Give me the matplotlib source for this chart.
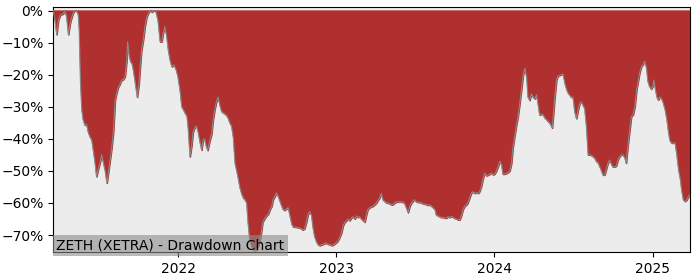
import pandas as pd
import matplotlib
matplotlib.use("Agg")
import matplotlib.pyplot as plt
import matplotlib.dates as mdates
from matplotlib.ticker import FuncFormatter

# drawdown series (date, percent below running peak)
dates = [
    "2021-03-18", "2021-03-22", "2021-03-26", "2021-03-30", "2021-04-03", "2021-04-10", "2021-04-14",
    "2021-04-18", "2021-04-22", "2021-04-26", "2021-04-30", "2021-05-03", "2021-05-07", "2021-05-12",
    "2021-05-15", "2021-05-17", "2021-05-20", "2021-05-23", "2021-05-26", "2021-05-30", "2021-06-03",
    "2021-06-07", "2021-06-11", "2021-06-15", "2021-06-19", "2021-06-23", "2021-06-26", "2021-06-30",
    "2021-07-04", "2021-07-08", "2021-07-12", "2021-07-16", "2021-07-20", "2021-07-23", "2021-07-27",
    "2021-07-31", "2021-08-04", "2021-08-08", "2021-08-12", "2021-08-15", "2021-08-19", "2021-08-23",
    "2021-08-27", "2021-08-31", "2021-09-04", "2021-09-06", "2021-09-10", "2021-09-13", "2021-09-16",
    "2021-09-19", "2021-09-23", "2021-09-28", "2021-10-02", "2021-10-05", "2021-10-08", "2021-10-12",
    "2021-10-16", "2021-10-20", "2021-10-24", "2021-10-28", "2021-11-01", "2021-11-06", "2021-11-10",
    "2021-11-15", "2021-11-20", "2021-11-24", "2021-11-27", "2021-12-01", "2021-12-05", "2021-12-09",
    "2021-12-13", "2021-12-17", "2021-12-22", "2021-12-27", "2021-12-31",
    "2022-01-05", "2022-01-09", "2022-01-15", "2022-01-21", "2022-01-24", "2022-01-28", "2022-02-01",
    "2022-02-04", "2022-02-08", "2022-02-12", "2022-02-16", "2022-02-20", "2022-02-24", "2022-02-27",
    "2022-03-03", "2022-03-07", "2022-03-10", "2022-03-15", "2022-03-19", "2022-03-22", "2022-03-26",
    "2022-03-30", "2022-04-03", "2022-04-07", "2022-04-11", "2022-04-16", "2022-04-22", "2022-04-26",
    "2022-04-30", "2022-05-04", "2022-05-08", "2022-05-12", "2022-05-16", "2022-05-19", "2022-05-23",
    "2022-05-27", "2022-05-31", "2022-06-04", "2022-06-08", "2022-06-11", "2022-06-15", "2022-06-19",
    "2022-06-23", "2022-06-27", "2022-07-01", "2022-07-06", "2022-07-11", "2022-07-15", "2022-07-20",
    "2022-07-24", "2022-07-28", "2022-08-01", "2022-08-05", "2022-08-08", "2022-08-12", "2022-08-16",
    "2022-08-20", "2022-08-24", "2022-08-28", "2022-08-31", "2022-09-04", "2022-09-08", "2022-09-12",
    "2022-09-16", "2022-09-20", "2022-09-23", "2022-09-27", "2022-10-02", "2022-10-09", "2022-10-16",
    "2022-10-20", "2022-10-24", "2022-10-28", "2022-11-01", "2022-11-05", "2022-11-08", "2022-11-12",
    "2022-11-16", "2022-11-20", "2022-11-24", "2022-11-29", "2022-12-03", "2022-12-08", "2022-12-12",
    "2022-12-17", "2022-12-22", "2022-12-26", "2022-12-31",
    "2023-01-04", "2023-01-08", "2023-01-13", "2023-01-17", "2023-01-21", "2023-01-25", "2023-01-28",
    "2023-02-01", "2023-02-05", "2023-02-09", "2023-02-13", "2023-02-17", "2023-02-20", "2023-02-24",
    "2023-02-28", "2023-03-04", "2023-03-08", "2023-03-12", "2023-03-15", "2023-03-19", "2023-03-23",
    "2023-03-27", "2023-03-31", "2023-04-04", "2023-04-08", "2023-04-11", "2023-04-15", "2023-04-19",
    "2023-04-23", "2023-04-27", "2023-05-01", "2023-05-05", "2023-05-09", "2023-05-12", "2023-05-16",
    "2023-05-20", "2023-05-24", "2023-05-28", "2023-06-01", "2023-06-04", "2023-06-08", "2023-06-12",
    "2023-06-16", "2023-06-20", "2023-06-24", "2023-06-27", "2023-07-01", "2023-07-05", "2023-07-09",
    "2023-07-13", "2023-07-17", "2023-07-21", "2023-07-24", "2023-07-28", "2023-08-01", "2023-08-05",
    "2023-08-09", "2023-08-13", "2023-08-17", "2023-08-20", "2023-08-24", "2023-08-28", "2023-09-01",
    "2023-09-05", "2023-09-09", "2023-09-13", "2023-09-16", "2023-09-20", "2023-09-24", "2023-09-28",
    "2023-10-02", "2023-10-06", "2023-10-09", "2023-10-13", "2023-10-17", "2023-10-21", "2023-10-25",
    "2023-10-29", "2023-11-01", "2023-11-05", "2023-11-09", "2023-11-13", "2023-11-17", "2023-11-21",
    "2023-11-25", "2023-11-28", "2023-12-02", "2023-12-06", "2023-12-10", "2023-12-14", "2023-12-18",
    "2023-12-22", "2023-12-26", "2023-12-29",
    "2024-01-02", "2024-01-06", "2024-01-10", "2024-01-14", "2024-01-18", "2024-01-21", "2024-01-25",
    "2024-01-29", "2024-02-02", "2024-02-06", "2024-02-10", "2024-02-13", "2024-02-17", "2024-02-21",
    "2024-02-25", "2024-02-29", "2024-03-04", "2024-03-08", "2024-03-12", "2024-03-16", "2024-03-19",
    "2024-03-23", "2024-03-27", "2024-03-31", "2024-04-04", "2024-04-08", "2024-04-11", "2024-04-15",
    "2024-04-19", "2024-04-23", "2024-04-27", "2024-05-01", "2024-05-04", "2024-05-08", "2024-05-12",
    "2024-05-14", "2024-05-17", "2024-05-20", "2024-05-24", "2024-05-27", "2024-05-31", "2024-06-04",
    "2024-06-08", "2024-06-12", "2024-06-16", "2024-06-19", "2024-06-23", "2024-06-27", "2024-07-01",
    "2024-07-05", "2024-07-09", "2024-07-13", "2024-07-17", "2024-07-21", "2024-07-24", "2024-07-28",
    "2024-08-01", "2024-08-05", "2024-08-09", "2024-08-13", "2024-08-16", "2024-08-20", "2024-08-24",
    "2024-08-28", "2024-09-01", "2024-09-05", "2024-09-08", "2024-09-12", "2024-09-16", "2024-09-20",
    "2024-09-24", "2024-09-28", "2024-10-01", "2024-10-05", "2024-10-09", "2024-10-13", "2024-10-17",
    "2024-10-21", "2024-10-25", "2024-10-29", "2024-11-01", "2024-11-05", "2024-11-09", "2024-11-13",
    "2024-11-17", "2024-11-21", "2024-11-25", "2024-11-28", "2024-12-02", "2024-12-06", "2024-12-10",
    "2024-12-14", "2024-12-18", "2024-12-21", "2024-12-25", "2024-12-29",
    "2025-01-02", "2025-01-04", "2025-01-08", "2025-01-11", "2025-01-14", "2025-01-18", "2025-01-22",
    "2025-01-26", "2025-01-30", "2025-02-03", "2025-02-07", "2025-02-10", "2025-02-14", "2025-02-18",
    "2025-02-22", "2025-02-26", "2025-03-02", "2025-03-06", "2025-03-09", "2025-03-13", "2025-03-17",
    "2025-03-21", "2025-03-25", "2025-03-27",
]
drawdown = [
    0, -3, -7.5, -3, -1.5, -1, 0,
    -2, -7.5, -4, -2, -0.8, 0, -0.3,
    -1.5, -6, -22.6, -31, -34, -35.7, -35.5,
    -38, -39.4, -40.4, -44, -48, -51.8, -49.5,
    -47.5, -45, -47.5, -50, -53.8, -51, -47,
    -43, -38, -28, -25.5, -24, -23, -21.7,
    -21.5, -20.6, -15.4, -9.7, -14.4, -16, -16.5,
    -18.5, -22, -27, -23, -17.5, -12.5, -9.2,
    -5, -2, -0.8, 0, -0.5, 0, -0.3,
    -3, -9.7, -9.7, -7, -5, -8, -12.5,
    -15.5, -17.5, -17, -18.5, -20.5,
    -25, -30, -31.5, -33, -37, -45.6, -42,
    -38, -36.5, -36, -38, -41, -43.5, -40.5,
    -40, -42.5, -43.6, -40.5, -38.5, -34.5, -31,
    -28.5, -27, -29.5, -31.5, -32, -32.6, -33.5,
    -35, -36, -39.5, -47.5, -50, -52, -55,
    -57, -58.4, -59, -60, -66, -71.5, -73.5,
    -74.5, -74.8, -74.6, -73, -70, -66, -64.8,
    -64, -63.5, -62, -61, -59, -58, -56.9,
    -58, -59.5, -61, -62, -62.3, -61.8, -61.5,
    -64, -66.5, -67.4, -67.5, -67.6, -67.8, -68.4,
    -68, -66, -63.5, -62.7, -64, -67.5, -70.5,
    -72, -73, -73.3, -73, -72.8, -72.5, -72.8,
    -73, -73.3, -73, -72.5,
    -72, -71, -69.4, -67, -66, -65.5, -65,
    -65.5, -64.7, -64.3, -65, -64, -64.5, -64.3,
    -65, -65.5, -66, -63.5, -62, -61.5, -61.2,
    -61, -60.5, -60, -59, -58.5, -57, -59,
    -59.5, -60, -60, -60.3, -60.6, -60.5, -60,
    -59.7, -59.7, -59.5, -59.8, -59.6, -60.2, -61.5,
    -63, -61, -60, -59.5, -59, -59.6, -59.8,
    -59.8, -60, -60.3, -60.3, -60.5, -60.7, -60.6,
    -61, -61.5, -62, -63.7, -64, -64.3, -64.5,
    -64.5, -64.7, -64.7, -64.3, -64.5, -64.2, -64.5,
    -64.8, -65, -65.2, -65.3, -64, -62, -61,
    -60.6, -60, -58.5, -57, -56.5, -57, -56.8,
    -57, -56.5, -55, -52.5, -50.7, -51.5, -51.3,
    -51, -50.7, -51.2,
    -51, -50, -48.7, -47, -48, -51, -51,
    -50.8, -50.5, -50, -47.6, -43, -39.4, -36,
    -33, -29, -24.7, -20, -18, -21, -27,
    -28, -26, -27, -27.5, -26.3, -29, -32.6,
    -32.3, -32.5, -33.5, -34, -34.5, -35, -36,
    -36.6, -32, -27, -21.7, -20.5, -20.2, -20,
    -19.8, -22.5, -24.5, -25.5, -26.3, -27, -27,
    -31.5, -33.7, -31, -28.8, -28.5, -29.5, -30.5,
    -36, -45, -45, -45.2, -45.5, -46, -47,
    -47.5, -48.7, -50, -51.2, -51.3, -49.5, -47.5,
    -46.6, -48, -48.7, -48.7, -48.5, -46.6, -45.5,
    -45, -45, -46, -47.6, -42, -37.5, -33,
    -32.5, -30, -24.8, -22.5, -19.5, -17.5, -16.8,
    -15.8, -18, -22, -23.7, -24.5,
    -23.5, -21.7, -25, -27, -27.9, -27, -27.5,
    -29, -31, -34, -38.2, -40.5, -41.3, -41.3,
    -41.3, -45, -49.7, -52.5, -56, -59, -59.5,
    -59, -58, -57.5,
]
title = "ZETH (XETRA) - Drawdown Chart"

dd = pd.Series(drawdown, index=pd.to_datetime(dates))

fig = plt.figure(figsize=(7, 2.8), dpi=100)
ax = fig.add_axes([0.076, 0.1, 0.91, 0.875])
ax.set_facecolor("#ececec")

ax.fill_between(dd.index, dd.values, 0, color="#b03030", zorder=2)
ax.plot(dd.index, dd.values, color="#8a8a8a", lw=0.8, zorder=3)

ax.set_xlim(dd.index[0], dd.index[-1] + pd.Timedelta(days=2))
ax.set_ylim(-75.3, 1.1)
ax.set_yticks(range(-70, 1, 10))
ax.yaxis.set_major_formatter(FuncFormatter(lambda v, p: f"{int(v)}%".replace("-", "\u2212")))
ax.xaxis.set_major_locator(mdates.YearLocator())
ax.xaxis.set_major_formatter(mdates.DateFormatter("%Y"))

ax.text(0.005, 0.012, title, transform=ax.transAxes, fontsize=10, zorder=5,
        bbox=dict(facecolor="#8c8c8c", alpha=0.6, edgecolor="none", pad=2.5))

fig.savefig("out.png", dpi=100)
